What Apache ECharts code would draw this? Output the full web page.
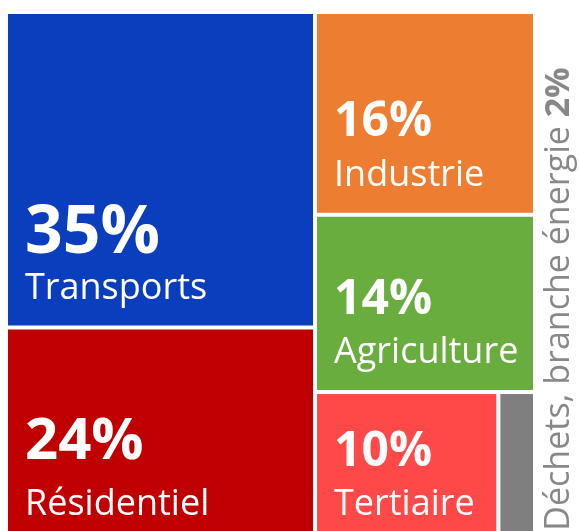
<!DOCTYPE html>
<html>
<head>
<meta charset="utf-8">
<script src="https://cdn.jsdelivr.net/npm/echarts@6/dist/echarts.min.js"></script>
<style>
  html, body { margin: 0; padding: 0; background: #fff; }
  #chart { width: 579px; height: 531px; }
</style>
</head>
<body>
<div id="chart"></div>
<script>
// shares of emissions by sector, in %
const sectors = ['Transports', 'Résidentiel', 'Industrie', 'Agriculture', 'Tertiaire', 'Déchets, branche énergie'];
const shares = [35, 24, 16, 14, 10, 2];
const sectorColors = ['#0a3ebd', '#c00000', '#ed7d31', '#6aad3f', '#ff4848', '#7f7f7f'];

const chart = echarts.init(document.getElementById('chart'));

function leaf(i) {
    return { name: sectors[i], value: shares[i], itemStyle: { color: sectorColors[i] } };
}

// grouping so the squarified layout gives: left column / right column
const treeData = [
    { name: 'left', children: [leaf(0), leaf(1)] },
    { name: 'right', children: [leaf(2), leaf(3), { name: 'bottom', children: [leaf(4), leaf(5)] }] }
];

const font = '"Open Sans", "DejaVu Sans", sans-serif';
const last = sectors.length - 1;

// label line heights, used to put the label block at the bottom of each cell
const lh = { p1: 64, p2: 82, p3: 62, n: 44 };
function pctStyle(v) {
    return v >= 30 ? 'p1' : (v >= 20 ? 'p2' : 'p3');
}

chart.setOption({
    animation: false,
    backgroundColor: '#fff',
    series: [{
        type: 'treemap',
        left: 8,
        top: 14,
        width: 525,
        height: 528,
        squareRatio: 1.3,
        roam: false,
        nodeClick: false,
        breadcrumb: { show: false },
        itemStyle: { borderWidth: 0, gapWidth: 4, borderColor: '#fff' },
        upperLabel: { show: false },
        label: {
            show: true,
            position: 'insideTopLeft',
            color: '#fff',
            fontFamily: font,
            formatter: function (p) {
                if (p.name === sectors[last]) return '';
                return '{' + pctStyle(p.value) + '|' + p.value + '%}\n{n|' + p.name + '}';
            },
            rich: {
                p1: { fontSize: 66, fontWeight: 'bold', lineHeight: lh.p1, color: '#fff', fontFamily: font },
                p2: { fontSize: 58, fontWeight: 'bold', lineHeight: lh.p2, color: '#fff', fontFamily: font },
                p3: { fontSize: 48, fontWeight: 'bold', lineHeight: lh.p3, color: '#fff', fontFamily: font },
                n: { fontSize: 36, lineHeight: lh.n, color: '#fff', fontFamily: font }
            }
        },
        labelLayout: function (p) {
            const m = /\{(p\d)\|/.exec(p.text || '');
            const blockH = (m ? lh[m[1]] : 0) + lh.n;
            return { x: p.rect.x + 12, y: p.rect.y + p.rect.height - blockH - 20 };
        },
        emphasis: { disabled: true },
        data: treeData
    }],
    graphic: [{
        type: 'text',
        x: 559,
        y: 299,
        rotation: Math.PI / 2,
        style: {
            text: '{a|' + sectors[last] + ' }{b|' + shares[last] + '%}',
            align: 'center',
            verticalAlign: 'middle',
            rich: {
                a: { fontSize: 34, fontFamily: font, fill: '#888888' },
                b: { fontSize: 34, fontFamily: font, fontWeight: 'bold', fill: '#888888' }
            }
        }
    }]
});
</script>
</body>
</html>
